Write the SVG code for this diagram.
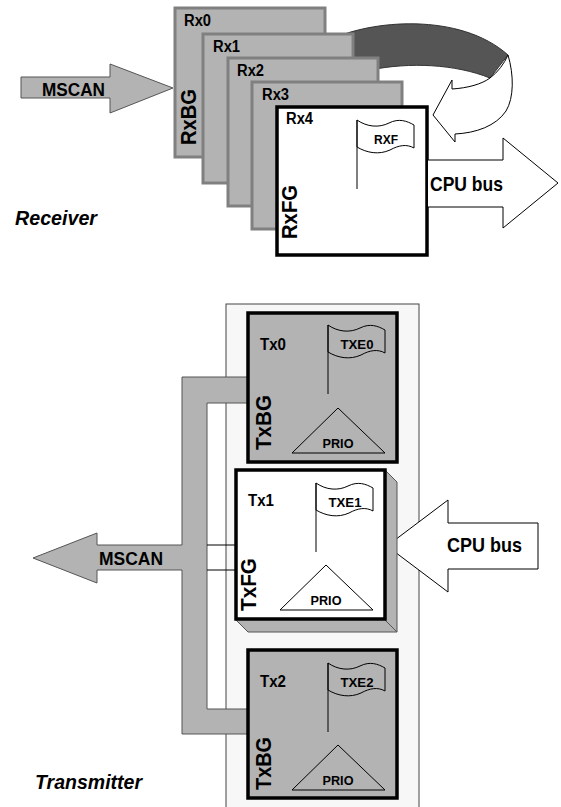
<svg xmlns="http://www.w3.org/2000/svg" width="561" height="807" viewBox="0 0 561 807">
<style>
text{font-family:"Liberation Sans",Arial,sans-serif;font-weight:bold;fill:#000}
.lbl{font-size:16px}
.sm{font-size:13.5px;text-anchor:middle}
.big{font-size:22px}
.arr{font-size:19px}
.bus{font-size:21px}
.it{font-size:21px;font-style:italic}
.gbox{fill:#b3b3b3;stroke:#808080;stroke-width:3}
.wbox{fill:#fff;stroke:#000;stroke-width:3.5}
.tbox{fill:#b3b3b3;stroke:#000;stroke-width:3.5}
.thin{fill:none;stroke:#000;stroke-width:1}
.garr{fill:#b3b3b3;stroke:#555;stroke-width:1}
.warr{fill:#fff;stroke:#000;stroke-width:1}
</style>
<defs>
<g id="flag" class="thin">
<line x1="0" y1="0" x2="0" y2="69"/>
<path d="M0,0 C10,7 22,8 32,3 C42,-2 50,1 57,5 L57,28 C50,24 42,25 33,30 C22,35 10,33 0,27 Z"/>
</g>
<path id="prio" d="M0,0 L47,45 L-46,45 Z" class="thin"/>
</defs>

<g id="connectors">
<path id="ret-band" d="M330,40 C370,20 460,12 508,55 L490,78 C455,64 410,62 370,70 Z" fill="#555" stroke="#333" stroke-width="1"/>
<path id="ret-arrow" d="M508,55 C514,75 514,98 506,111 C496,126 476,133 455,134 L455,142 L433,115 L452,80 L452,89 C468,88 482,84 490,78 C498,72 504,64 508,55 Z" class="warr"/>
<path id="rx-mscan" d="M21,77 L110,77 L110,64 L173,88 L110,113 L110,98 L21,98 Z" class="garr"/>
</g>

<g id="Rx0"><rect x="175" y="8" width="150" height="149" class="gbox"/><text class="lbl" x="184" y="26" textLength="27" lengthAdjust="spacingAndGlyphs">Rx0</text><text class="big" transform="translate(196,145) rotate(-90)" textLength="56" lengthAdjust="spacingAndGlyphs">RxBG</text></g>
<g id="Rx1"><rect x="203" y="34" width="150" height="149" class="gbox"/><text class="lbl" x="213" y="52" textLength="27" lengthAdjust="spacingAndGlyphs">Rx1</text></g>
<g id="Rx2"><rect x="228" y="58" width="150" height="148" class="gbox"/><text class="lbl" x="237" y="76" textLength="27" lengthAdjust="spacingAndGlyphs">Rx2</text></g>
<g id="Rx3"><rect x="252" y="82" width="150" height="147" class="gbox"/><text class="lbl" x="262" y="100" textLength="27" lengthAdjust="spacingAndGlyphs">Rx3</text></g>
<g id="Rx4"><rect x="277" y="107" width="150" height="148" class="wbox"/><text class="lbl" x="286" y="124" textLength="27" lengthAdjust="spacingAndGlyphs">Rx4</text>
<use href="#flag" x="357" y="120"/><text class="sm" x="386" y="144" textLength="24" lengthAdjust="spacingAndGlyphs">RXF</text>
<text class="big" transform="translate(297,239) rotate(-90)" textLength="54" lengthAdjust="spacingAndGlyphs">RxFG</text></g>

<g id="rx-cpu">
<path d="M428,160 L503,160 L503,138 L558,183 L503,228 L503,207 L428,207" class="warr"/>
<text class="bus" x="430" y="191" textLength="73" lengthAdjust="spacingAndGlyphs">CPU bus</text>
</g>
<text class="arr" x="42" y="96" textLength="63" lengthAdjust="spacingAndGlyphs">MSCAN</text>
<text class="it" x="15" y="225" textLength="82" lengthAdjust="spacingAndGlyphs">Receiver</text>

<g id="tx-panel"><rect x="226" y="304" width="193" height="510" fill="#f7f7f7" stroke="#444" stroke-width="1"/></g>

<g id="tx-connectors">
<path id="tx-bus" d="M97,545 L182,545 L182,377 L248,377 L248,403 L207,403 L207,709 L248,709 L248,734 L182,734 L182,570 L97,570 L97,583 L33,558 L97,533 Z" class="garr"/>
<line x1="207" y1="545" x2="236" y2="545" stroke="#000" stroke-width="1"/>
<line x1="207" y1="570" x2="236" y2="570" stroke="#000" stroke-width="1"/>
<path id="tx-cpu" d="M538,523 L448,523 L448,500 L387,546 L448,592 L448,569 L538,569 Z" class="warr"/>
</g>

<g id="Tx0"><rect x="248" y="313" width="149" height="149" class="tbox"/><text class="lbl" x="260" y="350" textLength="26" lengthAdjust="spacingAndGlyphs">Tx0</text>
<use href="#flag" x="328" y="325"/><text class="sm" x="357" y="349" textLength="33" lengthAdjust="spacingAndGlyphs">TXE0</text>
<use href="#prio" x="338" y="408"/><text class="sm" x="338" y="448" textLength="31" lengthAdjust="spacingAndGlyphs">PRIO</text>
<text class="big" transform="translate(271,450) rotate(-90)" textLength="55" lengthAdjust="spacingAndGlyphs">TxBG</text></g>

<g id="Tx1"><path d="M385,470 L397,482 L397,632 L248,632 L236,620 Z" fill="#b3b3b3" stroke="#555" stroke-width="1"/>
<line x1="385" y1="620" x2="397" y2="632" stroke="#555" stroke-width="1"/>
<rect x="236" y="470" width="149" height="149" class="wbox"/><text class="lbl" x="248" y="506" textLength="26" lengthAdjust="spacingAndGlyphs">Tx1</text>
<use href="#flag" x="316" y="483"/><text class="sm" x="345" y="507" textLength="33" lengthAdjust="spacingAndGlyphs">TXE1</text>
<use href="#prio" x="326" y="565"/><text class="sm" x="326" y="605" textLength="31" lengthAdjust="spacingAndGlyphs">PRIO</text>
<text class="big" transform="translate(256,611) rotate(-90)" textLength="53" lengthAdjust="spacingAndGlyphs">TxFG</text></g>

<g id="Tx2"><rect x="248" y="650" width="149" height="148" class="tbox"/><text class="lbl" x="260" y="687" textLength="26" lengthAdjust="spacingAndGlyphs">Tx2</text>
<use href="#flag" x="328" y="663"/><text class="sm" x="357" y="687" textLength="33" lengthAdjust="spacingAndGlyphs">TXE2</text>
<use href="#prio" x="338" y="745"/><text class="sm" x="338" y="785" textLength="31" lengthAdjust="spacingAndGlyphs">PRIO</text>
<text class="big" transform="translate(271,790) rotate(-90)" textLength="53" lengthAdjust="spacingAndGlyphs">TxBG</text></g>

<text class="arr" x="99" y="565" textLength="64" lengthAdjust="spacingAndGlyphs">MSCAN</text>
<text class="bus" x="447" y="552" textLength="75" lengthAdjust="spacingAndGlyphs">CPU bus</text>
<text class="it" x="35" y="789" textLength="107" lengthAdjust="spacingAndGlyphs">Transmitter</text>
</svg>
